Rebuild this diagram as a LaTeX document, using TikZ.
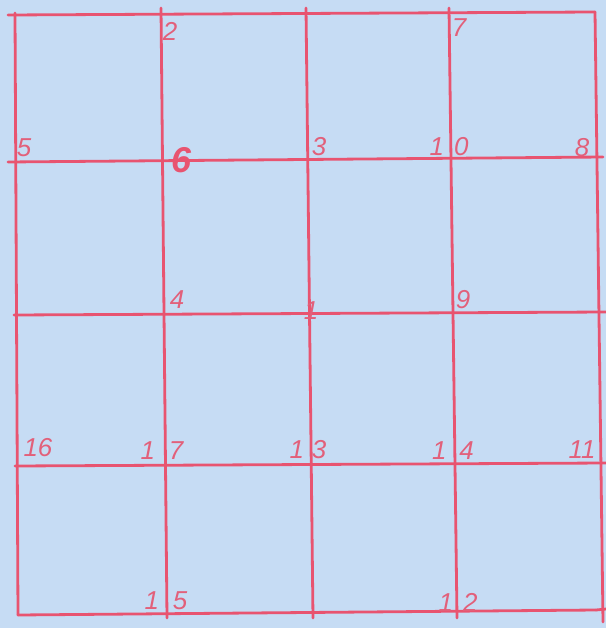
\documentclass[tikz,border=0pt]{standalone}
\usepackage{fontspec}
\setsansfont{Liberation Sans}
\definecolor{paper}{RGB}{198,220,244}
\definecolor{redline}{RGB}{232,84,112}
\definecolor{redtext}{RGB}{226,96,122}
\tikzset{
  gridline/.style={draw=redline, line width=2.8bp, line cap=round},
  num/.style={text=redtext, font=\sffamily\itshape\fontsize{26}{26}\selectfont, inner sep=0pt},
  bignum/.style={text=redline, font=\sffamily\bfseries\itshape\fontsize{36}{36}\selectfont, inner sep=0pt}
}
\begin{document}
\begin{tikzpicture}[x=1bp,y=-1bp]
\useasboundingbox[fill=paper] (0,0) rectangle (606,628);
% vertical line ends (top / bottom)
\coordinate (v0t) at (15,13);  \coordinate (v0b) at (18,615);
\coordinate (v1t) at (161,8);  \coordinate (v1b) at (167,618);
\coordinate (v2t) at (306,8);  \coordinate (v2b) at (313,618);
\coordinate (v3t) at (449,8);  \coordinate (v3b) at (457,618);
\coordinate (v4t) at (595,12); \coordinate (v4b) at (603,622);
% horizontal line ends (left / right)
\coordinate (h0l) at (8,15);   \coordinate (h0r) at (595,12);
\coordinate (h1l) at (8,162);  \coordinate (h1r) at (603,157);
\coordinate (h2l) at (14,315); \coordinate (h2r) at (606,312);
\coordinate (h3l) at (15,466); \coordinate (h3r) at (606,463);
\coordinate (h4l) at (18,615); \coordinate (h4r) at (596,610);
\coordinate (h4x) at (606,609);
% grid
\foreach \i in {0,...,4} {\draw[gridline] (v\i t) -- (v\i b);}
\foreach \i in {0,...,4} {\draw[gridline] (h\i l) -- (h\i r);}
\draw[gridline] (h4r) -- (h4x);
% labels
\node[num] (n2)  at (170,31)  {2};
\node[num] (n7)  at (459,28)  {7};
\node[num] (n5)  at (24,148)  {5};
\node[bignum] (n6) at (181,160) {6};
\node[num] (n3)  at (319,147) {3};
\node[num] (n10) at (449,147) {1\hspace{10bp}0};
\node[num] (n8)  at (582,148) {8};
\node[num] (n4)  at (177,300) {4};
\node[num] (n1)  at (311,311) {1};
\node[num] (n9)  at (463,300) {9};
\node[num] (n16) at (38,448)  {16};
\node[num] (n17) at (162,451) {1\hspace{14bp}7};
\node[num] (n13) at (308,450) {1\hspace{8bp}3};
\node[num] (n14) at (453,451) {1\hspace{13bp}4};
\node[num] (n11) at (582,450) {11};
\node[num] (n15) at (166,601) {1\hspace{14bp}5};
\node[num] (n12) at (458,602) {1\hspace{10bp}2};
\end{tikzpicture}
\end{document}
